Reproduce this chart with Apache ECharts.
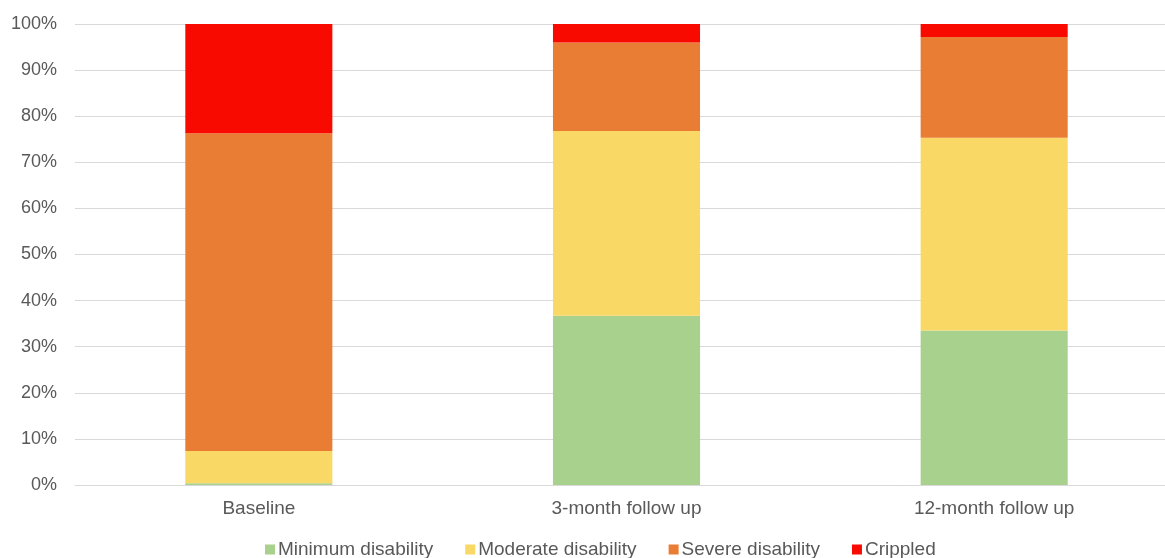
<!DOCTYPE html>
<html>
<head>
<meta charset="utf-8">
<title>Disability grade over follow-up</title>
<script src="https://cdn.jsdelivr.net/npm/echarts@6/dist/echarts.min.js"></script>
<style>
  html, body { margin: 0; padding: 0; background: #ffffff; overflow: hidden; }
  /* the plot runs a little past the right edge of the window */
  #chart { width: 1180px; height: 558px; }
</style>
</head>
<body>
<div id="chart"></div>
<script>
// Time points
const categories = ['Baseline', '3-month follow up', '12-month follow up'];

// Share of patients in each disability grade (%)
const minimumDisability = [0.4, 36.7, 33.5];
const moderateDisability = [7.0, 40.1, 41.8];
const severeDisability = [68.9, 19.2, 21.9];
const crippled = [23.7, 4.0, 2.8];

// Y-axis ticks
const yTicks = [0, 10, 20, 30, 40, 50, 60, 70, 80, 90, 100];

const seriesDefs = [
  { name: 'Minimum disability', data: minimumDisability, color: '#A9D18E' },
  { name: 'Moderate disability', data: moderateDisability, color: '#FAD865' },
  { name: 'Severe disability', data: severeDisability, color: '#EA7D34' },
  { name: 'Crippled', data: crippled, color: '#F90A00' }
];

const textColor = '#595959';
const font = '"Liberation Sans", Arial, Helvetica, sans-serif';

const chart = echarts.init(document.getElementById('chart'), null, { renderer: 'canvas' });

chart.setOption({
  animation: false,
  backgroundColor: '#ffffff',
  textStyle: { fontFamily: font },
  grid: {
    left: 75,
    top: 24,
    width: 1103,
    height: 461,
    containLabel: false
  },
  legend: {
    left: 260,
    top: 535,
    itemWidth: 10,
    itemHeight: 10,
    itemGap: 32,
    icon: 'rect',
    textStyle: { color: textColor, fontSize: 19, fontFamily: font, padding: [0, 0, 0, -2] },
    data: seriesDefs.map(s => s.name)
  },
  xAxis: {
    type: 'category',
    data: categories,
    axisLine: { show: true, lineStyle: { color: '#d9d9d9', width: 1 } },
    axisTick: { show: false },
    axisLabel: { color: textColor, fontSize: 19, fontFamily: font, margin: 14 }
  },
  yAxis: {
    type: 'value',
    min: yTicks[0],
    max: yTicks[yTicks.length - 1],
    interval: yTicks[1] - yTicks[0],
    axisLine: { show: false },
    axisTick: { show: false },
    splitLine: { lineStyle: { color: '#d9d9d9', width: 1 } },
    axisLabel: {
      color: textColor,
      fontSize: 18,
      fontFamily: font,
      margin: 18,
      formatter: '{value}%'
    }
  },
  series: seriesDefs.map(s => ({
    name: s.name,
    type: 'bar',
    stack: 'total',
    barWidth: '40%',
    data: s.data,
    itemStyle: { color: s.color }
  }))
});
</script>
</body>
</html>
